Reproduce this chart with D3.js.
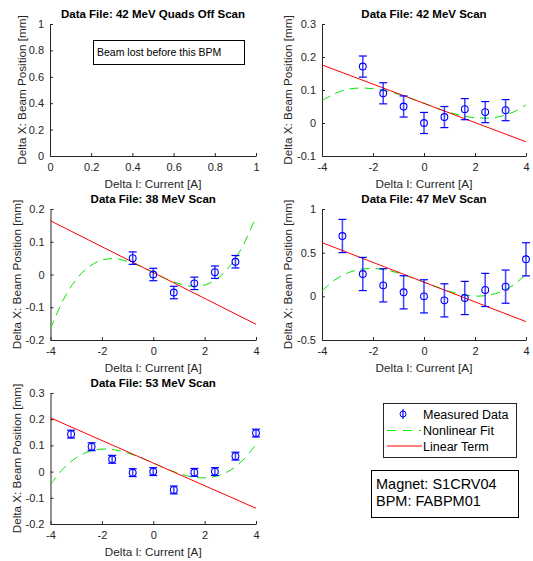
<!DOCTYPE html>
<html lang="en">
<head>
  <meta charset="UTF-8">
  <title>Beam Position vs Corrector Current</title>
  <script src="https://d3js.org/d3.v7.min.js"></script>
  <style>
    body {
      margin: 0;
      background: #fff;
    }
    svg {
      display: block;
      font-family: "Liberation Sans", Arial, sans-serif;
    }
    .axis path, .axis line {
      stroke: #262626;
    }
    .axis text {
      fill: #262626;
      font-size: 11px;
    }
    .title {
      font-size: 11.5px;
      font-weight: bold;
      fill: #000;
    }
    .axis-label {
      font-size: 11.7px;
      fill: #262626;
    }
  </style>
</head>
<body>
  <svg id="chart" width="533" height="561"></svg>

  <script>
    // Current steps [A] and fit sample points
    const fitX = [-4, -3.5, -3, -2.5, -2, -1.5, -1, -0.5, 0, 0.5, 1, 1.5, 2, 2.5, 3, 3.5, 4];
    const linX = [-4, 4];

    // 42 MeV Scan
    const x42 = [-2.4, -1.6, -0.8, 0, 0.8, 1.6, 2.4, 3.2];
    const y42 = [0.171, 0.090, 0.050, 0.000, 0.018, 0.042, 0.033, 0.039];
    const err42 = [0.032, 0.032, 0.032, 0.032, 0.032, 0.032, 0.032, 0.032];
    const fit42 = [0.068, 0.089, 0.102, 0.106, 0.104, 0.098, 0.087, 0.074, 0.060, 0.045, 0.032, 0.022, 0.016, 0.015, 0.020, 0.033, 0.055];
    const lin42 = [0.176, -0.057];

    // 38 MeV Scan
    const x38 = [-0.8, 0, 0.8, 1.6, 2.4, 3.2];
    const y38 = [0.050, 0.000, -0.055, -0.027, 0.007, 0.039];
    const err38 = [0.019, 0.019, 0.019, 0.019, 0.019, 0.019];
    const fit38 = [-0.166, -0.077, -0.015, 0.024, 0.044, 0.048, 0.040, 0.025, 0.006, -0.013, -0.028, -0.036, -0.032, -0.012, 0.027, 0.089, 0.178];
    const lin38 = [0.164, -0.152];

    // 47 MeV Scan
    const x47 = [-3.2, -2.4, -1.6, -0.8, 0, 0.8, 1.6, 2.4, 3.2, 4];
    const y47 = [0.691, 0.256, 0.126, 0.046, 0.000, -0.046, -0.019, 0.073, 0.111, 0.424];
    const err47 = [0.19, 0.19, 0.19, 0.19, 0.19, 0.19, 0.19, 0.19, 0.19, 0.19];
    const fit47 = [0.061, 0.187, 0.267, 0.309, 0.318, 0.302, 0.266, 0.217, 0.162, 0.107, 0.057, 0.021, 0.003, 0.011, 0.051, 0.129, 0.252];
    const lin47 = [0.615, -0.290];

    // 53 MeV Scan
    const x53 = [-3.2, -2.4, -1.6, -0.8, 0, 0.8, 1.6, 2.4, 3.2, 4];
    const y53 = [0.143, 0.095, 0.047, -0.004, 0.000, -0.070, -0.003, 0.000, 0.059, 0.147];
    const err53 = [0.015, 0.015, 0.015, 0.015, 0.015, 0.015, 0.015, 0.015, 0.015, 0.015];
    const fit53 = [-0.050, 0.012, 0.053, 0.077, 0.086, 0.083, 0.071, 0.054, 0.033, 0.011, -0.007, -0.020, -0.024, -0.016, 0.005, 0.045, 0.104];
    const lin53 = [0.205, -0.140];

    // Tick labels
    const unitTicks = [0, 0.2, 0.4, 0.6, 0.8, 1];
    const currentTicks = [-4, -2, 0, 2, 4];
    const yTicks42 = [-0.1, 0, 0.1, 0.2, 0.3];
    const yTicks38 = [-0.2, -0.1, 0, 0.1, 0.2];
    const yTicks47 = [-0.5, 0, 0.5, 1];
    const yTicks53 = [-0.2, -0.1, 0, 0.1, 0.2, 0.3];

    const legendLabels = ["Measured Data", "Nonlinear Fit", "Linear Term"];
    const infoLines = ["Magnet: S1CRV04", "BPM: FABPM01"];

    const BLUE = "#0000ff", GREEN = "#00e600", RED = "#ff0000";

    // Panels: data + layout box
    const panels = [
      { title: "Data File: 42 MeV Quads Off Scan", xDom: [0, 1], yDom: [0, 1], xTicks: unitTicks, yTicks: unitTicks,
        box: { l: 50, r: 256, t: 24, b: 156 }, labelOff: 24, note: "Beam lost before this BPM" },
      { title: "Data File: 42 MeV Scan", xDom: [-4, 4], yDom: [-0.1, 0.3], xTicks: currentTicks, yTicks: yTicks42,
        box: { l: 322, r: 526, t: 24, b: 156 }, labelOff: 30, x: x42, y: y42, err: err42, fit: fit42, lin: lin42 },
      { title: "Data File: 38 MeV Scan", xDom: [-4, 4], yDom: [-0.2, 0.2], xTicks: currentTicks, yTicks: yTicks38,
        box: { l: 50.5, r: 256, t: 209, b: 340 }, labelOff: 29.5, x: x38, y: y38, err: err38, fit: fit38, lin: lin38 },
      { title: "Data File: 47 MeV Scan", xDom: [-4, 4], yDom: [-0.5, 1], xTicks: currentTicks, yTicks: yTicks47,
        box: { l: 322, r: 526, t: 209, b: 340 }, labelOff: 30, x: x47, y: y47, err: err47, fit: fit47, lin: lin47 },
      { title: "Data File: 53 MeV Scan", xDom: [-4, 4], yDom: [-0.2, 0.3], xTicks: currentTicks, yTicks: yTicks53,
        box: { l: 50.5, r: 256, t: 393, b: 524 }, labelOff: 30, x: x53, y: y53, err: err53, fit: fit53, lin: lin53 }
    ];

    const svg = d3.select("#chart");
    svg.append("rect").attr("width", 533).attr("height", 561).attr("fill", "#fff");

    const fmt = d => String(d);

    panels.forEach(p => {
      const b = p.box;
      const x = d3.scaleLinear().domain(p.xDom).range([b.l, b.r]);
      const y = d3.scaleLinear().domain(p.yDom).range([b.b, b.t]);
      const g = svg.append("g");

      // axes (MATLAB style, ticks inward, box off)
      g.append("g")
        .attr("class", "axis")
        .attr("transform", `translate(0,${b.b})`)
        .call(d3.axisBottom(x).tickValues(p.xTicks).tickFormat(fmt).tickSizeInner(-3).tickSizeOuter(0).tickPadding(7));

      g.append("g")
        .attr("class", "axis")
        .attr("transform", `translate(${b.l},0)`)
        .call(d3.axisLeft(y).tickValues(p.yTicks).tickFormat(fmt).tickSizeInner(-3).tickSizeOuter(0).tickPadding(6));

      svg.selectAll(".axis").attr("font-family", null).attr("font-size", null);

      // title + labels
      g.append("text").attr("class", "title")
        .attr("x", (b.l + b.r) / 2).attr("y", b.t - 6)
        .attr("text-anchor", "middle").text(p.title);

      g.append("text").attr("class", "axis-label")
        .attr("x", (b.l + b.r) / 2).attr("y", b.b + 31.5)
        .attr("text-anchor", "middle").text("Delta I: Current [A]");

      g.append("text").attr("class", "axis-label")
        .attr("transform", `translate(${b.l - p.labelOff},${(b.t + b.b) / 2}) rotate(-90)`)
        .attr("text-anchor", "middle").text("Delta X: Beam Position [mm]");

      if (p.note) {
        g.append("rect")
          .attr("x", 93.5).attr("y", 40.5).attr("width", 151).attr("height", 24)
          .attr("fill", "#fff").attr("stroke", "#000").attr("stroke-width", 1);
        g.append("text")
          .attr("x", 97).attr("y", 56)
          .attr("font-size", "10.5px").attr("fill", "#000")
          .text(p.note);
        return;
      }

      // nonlinear fit
      const line = d3.line().x(d => x(d[0])).y(d => y(d[1]));
      g.append("path")
        .datum(d3.zip(fitX, p.fit))
        .attr("d", line.curve(d3.curveCatmullRom))
        .attr("fill", "none").attr("stroke", GREEN).attr("stroke-width", 1)
        .attr("stroke-dasharray", "9,6");

      // linear term
      g.append("path")
        .datum(d3.zip(linX, p.lin))
        .attr("d", d3.line().x(d => x(d[0])).y(d => y(d[1])))
        .attr("fill", "none").attr("stroke", RED).attr("stroke-width", 1);

      // error bars
      const pts = p.x.map((v, i) => ({ x: v, y: p.y[i], e: p.err[i] }));
      const eb = g.append("g").attr("stroke", BLUE).attr("fill", "none");
      pts.forEach(d => {
        const cx = x(d.x), y0 = y(d.y - d.e), y1 = y(d.y + d.e);
        eb.append("line").attr("x1", cx).attr("x2", cx).attr("y1", y0).attr("y2", y1)
          .attr("stroke-width", 1.6).attr("stroke-opacity", 0.7);
        [y0, y1].forEach(yy => eb.append("line")
          .attr("x1", cx - 4).attr("x2", cx + 4).attr("y1", yy).attr("y2", yy).attr("stroke-width", 1.2));
      });

      g.selectAll(".pt").data(pts).enter().append("circle")
        .attr("cx", d => x(d.x)).attr("cy", d => y(d.y)).attr("r", 3.4)
        .attr("fill", "none").attr("stroke", BLUE).attr("stroke-width", 1.1);
    });

    // legend
    const lg = svg.append("g");
    lg.append("rect").attr("x", 383.5).attr("y", 403.5).attr("width", 133).attr("height", 54)
      .attr("fill", "#fff").attr("stroke", "#262626");
    const rowY = [414, 430.5, 446];
    // measured data icon
    lg.append("line").attr("x1", 403).attr("x2", 403).attr("y1", rowY[0] - 5).attr("y2", rowY[0] + 5)
      .attr("stroke", BLUE).attr("stroke-width", 1.2);
    lg.append("circle").attr("cx", 403).attr("cy", rowY[0]).attr("r", 3).attr("fill", "none").attr("stroke", BLUE);
    lg.append("line").attr("x1", 387).attr("x2", 421).attr("y1", rowY[1]).attr("y2", rowY[1])
      .attr("stroke", GREEN).attr("stroke-width", 1.2).attr("stroke-dasharray", "9,7");
    lg.append("line").attr("x1", 387).attr("x2", 422).attr("y1", rowY[2]).attr("y2", rowY[2])
      .attr("stroke", RED).attr("stroke-width", 1);
    legendLabels.forEach((t, i) => {
      lg.append("text").attr("x", 423).attr("y", rowY[i] + 4.5)
        .attr("font-size", "12.5px").attr("fill", "#000").text(t);
    });

    // info box
    const ib = svg.append("g");
    ib.append("rect").attr("x", 371.5).attr("y", 470.5).attr("width", 147).attr("height", 47)
      .attr("fill", "#fff").attr("stroke", "#000");
    infoLines.forEach((t, i) => {
      ib.append("text").attr("x", 376).attr("y", 489 + i * 17)
        .attr("font-size", "14.5px").attr("fill", "#000").text(t);
    });
  </script>
</body>
</html>
